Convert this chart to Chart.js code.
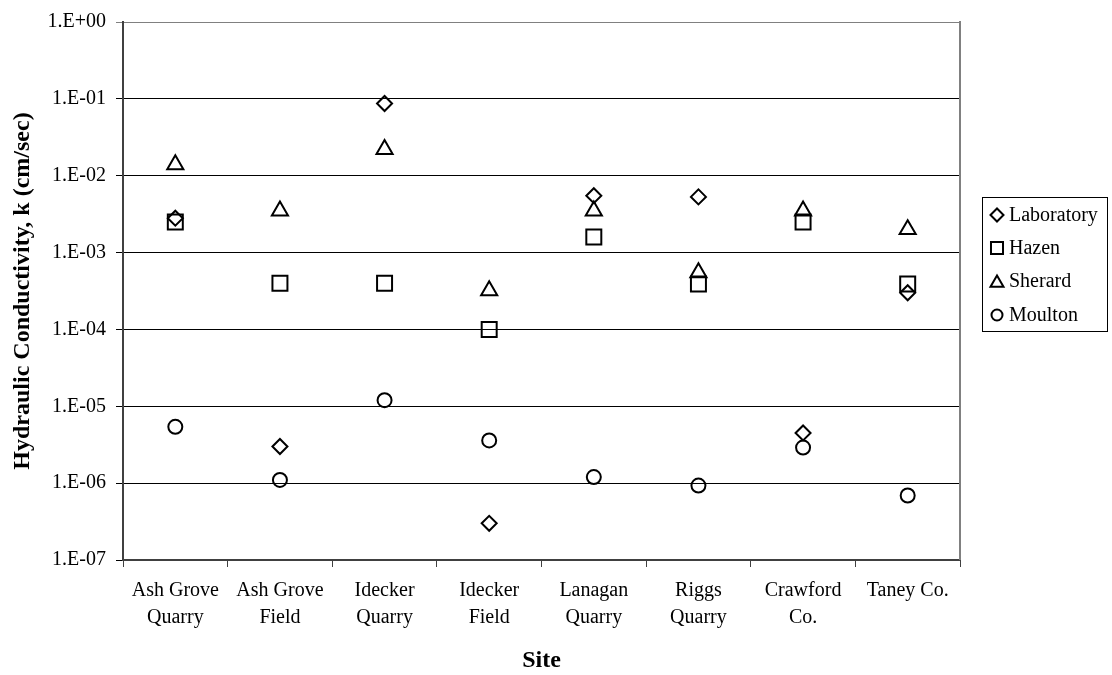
<!DOCTYPE html>
<html>
<head>
<meta charset="utf-8">
<script src="https://cdn.jsdelivr.net/npm/chart.js@4.4.1/dist/chart.umd.min.js"></script>
<style>
html,body{margin:0;padding:0;background:#fff;}
#wrap{width:1112px;height:675px;position:relative;}
</style>
</head>
<body>
<div id="wrap"><canvas id="c" width="1112" height="675"></canvas></div>
<script>
// ---- data ----
const categories = ['Ash Grove Quarry','Ash Grove Field','Idecker Quarry','Idecker Field','Lanagan Quarry','Riggs Quarry','Crawford Co.','Taney Co.'];
const xTickLabels = [['Ash Grove','Quarry'],['Ash Grove','Field'],['Idecker','Quarry'],['Idecker','Field'],['Lanagan','Quarry'],['Riggs','Quarry'],['Crawford','Co.'],['Taney Co.']];
const seriesNames = ['Laboratory','Hazen','Sherard','Moulton'];
const laboratory = [2.8e-3, 3.0e-6, 8.7e-2, 3.0e-7, 5.5e-3, 5.3e-3, 4.5e-6, 3.0e-4];
const hazen      = [2.5e-3, 4.0e-4, 4.0e-4, 1.0e-4, 1.6e-3, 3.9e-4, 2.5e-3, 3.9e-4];
const sherard    = [1.4e-2, 3.5e-3, 2.2e-2, 3.2e-4, 3.5e-3, 5.5e-4, 3.5e-3, 2.0e-3];
const moulton    = [5.4e-6, 1.1e-6, 1.2e-5, 3.6e-6, 1.2e-6, 9.3e-7, 2.9e-6, 6.9e-7];
const yTickValues = [1e-7, 1e-6, 1e-5, 1e-4, 1e-3, 1e-2, 1e-1, 1];
const yTickLabels = ['1.E-07','1.E-06','1.E-05','1.E-04','1.E-03','1.E-02','1.E-01','1.E+00'];

const FONT = '"Liberation Serif", "Times New Roman", serif';
const styles = ['rectRot','rect','triangle','circle'];
const radii = [7.5, 10.6, 9.3, 7];
const legendRadii = [6.5, 8.5, 7.5, 5.5];
const seriesData = [laboratory, hazen, sherard, moulton];

function ds(i){
  return {
    label: seriesNames[i],
    data: seriesData[i],
    showLine: false,
    pointStyle: styles[i],
    pointRadius: radii[i],
    pointHoverRadius: radii[i],
    pointBorderWidth: 2,
    pointHoverBorderWidth: 2,
    borderColor: '#000',
    backgroundColor: 'rgba(0,0,0,0)',
    pointBackgroundColor: 'rgba(0,0,0,0)'
  };
}

function drawShape(ctx, style, r, x, y){
  ctx.beginPath();
  if (style === 'rectRot'){
    ctx.moveTo(x - r, y); ctx.lineTo(x, y - r); ctx.lineTo(x + r, y); ctx.lineTo(x, y + r); ctx.closePath();
  } else if (style === 'rect'){
    const s = r * Math.SQRT1_2; ctx.rect(x - s, y - s, 2*s, 2*s);
  } else if (style === 'triangle'){
    let a = 0;
    ctx.moveTo(x + Math.sin(a)*r, y - Math.cos(a)*r);
    a += 2*Math.PI/3; ctx.lineTo(x + Math.sin(a)*r, y - Math.cos(a)*r);
    a += 2*Math.PI/3; ctx.lineTo(x + Math.sin(a)*r, y - Math.cos(a)*r);
    ctx.closePath();
  } else {
    ctx.arc(x, y, r, 0, Math.PI*2);
  }
  ctx.stroke();
}

const framePlugin = {
  id: 'frame',
  afterDraw(chart){
    const ctx = chart.ctx, a = chart.chartArea;
    ctx.save();
    // right border
    ctx.strokeStyle = '#808080'; ctx.lineWidth = 2;
    ctx.beginPath(); ctx.moveTo(a.right, a.top - 1); ctx.lineTo(a.right, a.bottom); ctx.stroke();
    // legend
    const lx = 982.5, ly = 197.5, lw = 125, lh = 134;
    ctx.strokeStyle = '#000'; ctx.lineWidth = 1;
    ctx.strokeRect(lx, ly, lw, lh);
    const ys = [215, 248, 281, 315];
    ctx.font = '20px ' + FONT;
    ctx.textBaseline = 'middle'; ctx.textAlign = 'left';
    ctx.fillStyle = '#000';
    for (let i = 0; i < seriesNames.length; i++){
      ctx.lineWidth = 2; ctx.strokeStyle = '#000';
      const yy = ys[i] + (styles[i] === 'triangle' ? 2 : 0);
      drawShape(ctx, styles[i], legendRadii[i], 997, yy);
      ctx.fillText(seriesNames[i], 1009, ys[i] + 1);
    }
    ctx.restore();
  }
};

new Chart(document.getElementById('c'), {
  type: 'line',
  data: { labels: xTickLabels, datasets: [ds(0), ds(1), ds(2), ds(3)] },
  options: {
    responsive: false,
    animation: false,
    events: [],
    layout: { padding: { left: 0, right: 152, top: 18, bottom: 0 } },
    plugins: { legend: { display: false }, tooltip: { enabled: false } },
    scales: {
      x: {
        type: 'category',
        offset: true,
        grid: { offset: true, drawOnChartArea: false, drawTicks: true, tickLength: 7, color: '#404040', lineWidth: 1 },
        border: { display: true, color: '#404040', width: 2 },
        ticks: { color: '#000', font: { family: FONT, size: 20, lineHeight: 1.35 }, padding: 10, maxRotation: 0, autoSkip: false },
        title: { display: true, text: 'Site', color: '#000', font: { family: FONT, size: 24, weight: 'bold', lineHeight: 1.2 }, padding: { top: 4, bottom: 0 } },
        afterFit(s){ s.height = 115; }
      },
      y: {
        type: 'logarithmic',
        min: 1e-7,
        max: 1,
        afterBuildTicks(s){ s.ticks = yTickValues.map(v => ({ value: v, major: true })); },
        grid: { color: (c) => (c.tick && c.tick.value === 1) ? '#808080' : '#000', lineWidth: 1, tickLength: 7, drawTicks: true },
        border: { display: true, color: '#404040', width: 2 },
        ticks: {
          color: '#000', font: { family: FONT, size: 20 }, padding: 10,
          callback: (v) => { const i = yTickValues.findIndex(t => Math.abs(Math.log10(t) - Math.log10(v)) < 1e-6); return i >= 0 ? yTickLabels[i] : ''; }
        },
        title: { display: true, text: 'Hydraulic Conductivity, k (cm/sec)', color: '#000', font: { family: FONT, size: 24, weight: 'bold', lineHeight: 1.2 }, padding: { top: 8, bottom: 0 } },
        afterFit(s){ s.width = 123; }
      }
    }
  },
  plugins: [framePlugin]
});
</script>
</body>
</html>
